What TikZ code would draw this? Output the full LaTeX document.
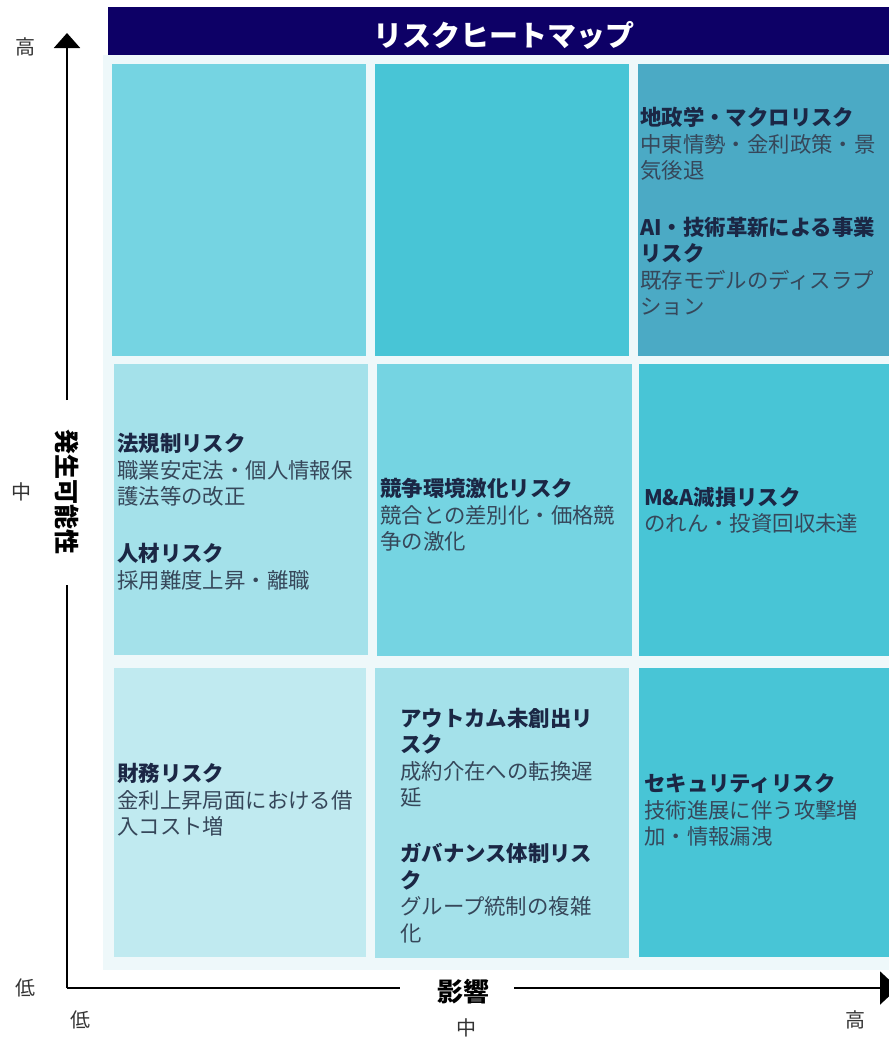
\documentclass[tikz,border=0pt]{standalone}
\usepackage{fontspec}
\setmainfont{Noto Sans CJK JP}
\usetikzlibrary{arrows.meta}
\definecolor{navy}{HTML}{0D0066}
\definecolor{panel}{HTML}{EEF8FA}
\definecolor{cA}{HTML}{C0EAF0}
\definecolor{cB}{HTML}{A4E1EA}
\definecolor{cC}{HTML}{75D4E2}
\definecolor{cD}{HTML}{48C5D6}
\definecolor{cE}{HTML}{4BAAC5}
\definecolor{headc}{HTML}{1B2745}
\definecolor{bodyc}{HTML}{36475A}
\definecolor{tickc}{HTML}{333333}
\newcommand{\hd}[1]{\textcolor{headc}{\bfseries #1}}
\newcommand{\bd}[1]{\textcolor{bodyc}{#1}}
\begin{document}
\begin{tikzpicture}[x=1pt,y=-1pt,
  cell/.style={draw=none,inner sep=0,outer sep=0,anchor=north west},
  item/.style={anchor=base west,align=left,inner sep=0,font=\fontsize{21.4}{26.5}\selectfont},
  tick/.style={inner sep=0,text=tickc,font=\fontsize{20}{24}\selectfont},
  axis/.style={line width=2pt,black},
  tip/.style={-{Triangle[length=15pt,width=26pt]}}
]
\useasboundingbox (0,0) rectangle (889,1039);
% panel and header
\node[cell,fill=panel,minimum width=786pt,minimum height=915pt] (panel) at (103,55) {};
\node[cell,fill=navy,minimum width=781pt,minimum height=48pt] (header) at (108,7) {};
\node[text=white,font=\fontsize{29}{32}\selectfont\bfseries,inner sep=0] (title) at (504,35) {リスクヒートマップ};
% row 1
\node[cell,fill=cC,minimum width=254pt,minimum height=292pt] (r1c1) at (112,64) {};
\node[cell,fill=cD,minimum width=254pt,minimum height=292pt] (r1c2) at (375,64) {};
\node[cell,fill=cE,minimum width=251pt,minimum height=292pt] (r1c3) at (638,64) {};
% row 2
\node[cell,fill=cB,minimum width=254pt,minimum height=291pt] (r2c1) at (114,364) {};
\node[cell,fill=cC,minimum width=255pt,minimum height=292pt] (r2c2) at (377,364) {};
\node[cell,fill=cD,minimum width=250pt,minimum height=292pt] (r2c3) at (639,364) {};
% row 3
\node[cell,fill=cA,minimum width=252pt,minimum height=289pt] (r3c1) at (114,668) {};
\node[cell,fill=cB,minimum width=254pt,minimum height=290pt] (r3c2) at (375,668) {};
\node[cell,fill=cD,minimum width=250pt,minimum height=289pt] (r3c3) at (639,668) {};
% texts row 1 (base = baseline of last line)
\node[item] (geo) at (640,178.7) {\hd{地政学・マクロリスク}\\\bd{中東情勢・金利政策・景}\\\bd{気後退}};
\node[item] (ai) at (640,314.5) {\hd{AI・技術革新による事業}\\\hd{リスク}\\\bd{既存モデルのディスラプ}\\\bd{ション}};
% texts row 2
\node[item] (law) at (117,504.7) {\hd{法規制リスク}\\\bd{職業安定法・個人情報保}\\\bd{護法等の改正}};
\node[item] (hr) at (117,588) {\hd{人材リスク}\\\bd{採用難度上昇・離職}};
\node[item] (comp) at (380,549.7) {\hd{競争環境激化リスク}\\\bd{競合との差別化・価格競}\\\bd{争の激化}};
\node[item] (ma) at (644,531.5) {\hd{M\&A減損リスク}\\\bd{のれん・投資回収未達}};
% texts row 3
\node[item] (fin) at (117,834.7) {\hd{財務リスク}\\\bd{金利上昇局面における借}\\\bd{入コスト増}};
\node[item] (out) at (400,805.5) {\hd{アウトカム未創出リ}\\\hd{スク}\\\bd{成約介在への転換遅}\\\bd{延}};
\node[item] (gov) at (400,941) {\hd{ガバナンス体制リス}\\\hd{ク}\\\bd{グループ統制の複雑}\\\bd{化}};
\node[item] (sec) at (644,844.7) {\hd{セキュリティリスク}\\\bd{技術進展に伴う攻撃増}\\\bd{加・情報漏洩}};
% axes
\coordinate (o) at (67,988);
\coordinate (ya) at (67,400);
\coordinate (yb) at (67,585);
\coordinate (ytip) at (67,33);
\coordinate (xa) at (400,988);
\coordinate (xb) at (514,988);
\coordinate (xtip) at (898,988);
\node[rotate=-90,inner sep=0,font=\fontsize{25}{28}\selectfont\bfseries] (ylab) at (67,492) {発生可能性};
\node[inner sep=0,font=\fontsize{26}{28}\selectfont\bfseries] (xlab) at (463,992) {影響};
\draw[axis] (o) -- (yb);
\draw[axis,tip] (ya) -- (ytip);
\draw[axis] (o) -- (xa);
\draw[axis,-{Triangle[length=18pt,width=33pt]}] (xb) -- (xtip);
% ticks
\node[tick] (yhi) at (25,47) {高};
\node[tick] (ymid) at (22,492) {中};
\node[tick] (ylo) at (25,988) {低};
\node[tick] (xlo) at (80,1020) {低};
\node[tick] (xmid) at (466,1028) {中};
\node[tick] (xhi) at (855,1020) {高};
\end{tikzpicture}
\end{document}
